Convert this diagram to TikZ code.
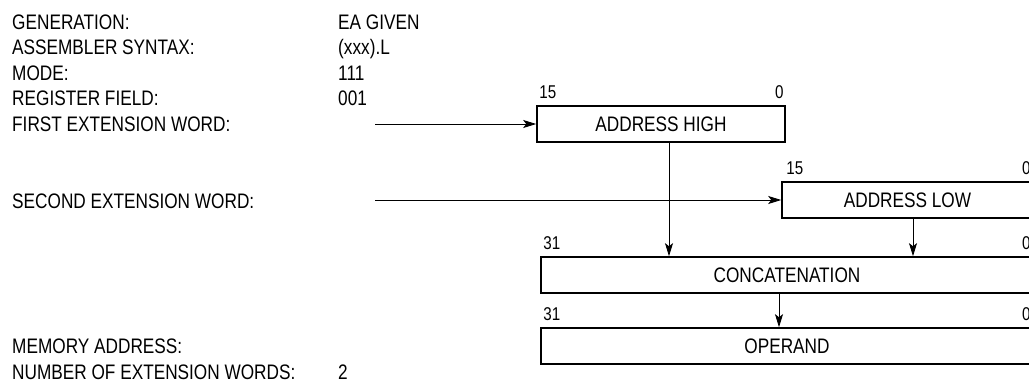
\documentclass[tikz,border=0pt]{standalone}
\usepackage{fontspec}
\setmainfont{Liberation Sans}[FakeStretch=0.82]
\usetikzlibrary{arrows.meta}
\begin{document}
\begin{tikzpicture}[x=1pt,y=-1pt,
  font=\fontsize{21}{25}\selectfont,
  lbl/.style={anchor=base west,inner sep=0pt},
  reg/.style={draw,line width=1.6pt,minimum height=36pt,inner sep=0pt},
  bitl/.style={anchor=south west,inner sep=0pt,font=\fontsize{18.5}{20}\selectfont},
  bitr/.style={anchor=south east,inner sep=0pt,font=\fontsize{18.5}{20}\selectfont},
  feed/.style={line width=0.9pt,-{Stealth[length=13pt,width=8pt,inset=3pt]}}]
\useasboundingbox (0,0) rectangle (1029,383);
% addressing mode summary
\node[lbl] (gen)   at (12,29)    {GENERATION:};
\node[lbl] (genv)  at (338,29)   {EA GIVEN};
\node[lbl] (syn)   at (12,54.6)  {ASSEMBLER SYNTAX:};
\node[lbl] (synv)  at (338,54.6) {(xxx).L};
\node[lbl] (mode)  at (12,80.2)  {MODE:};
\node[lbl] (modev) at (338,80.2) {111};
\node[lbl] (reg)   at (12,105.9) {REGISTER FIELD:};
\node[lbl] (regv)  at (338,105.9) {001};
\node[lbl] (ext1)  at (12,131.5) {FIRST EXTENSION WORD:};
\node[lbl] (ext2)  at (12,208.5) {SECOND EXTENSION WORD:};
\node[lbl] (mem)   at (12,353.5) {MEMORY ADDRESS:};
\node[lbl] (num)   at (12,379)   {NUMBER OF EXTENSION WORDS:};
\node[lbl] (numv)  at (338,379)  {2};
% registers
\node[reg,minimum width=248pt] (hi)  at (661,124)   {ADDRESS HIGH};
\node[reg,minimum width=251pt] (lo)  at (907.5,200) {ADDRESS LOW};
\node[reg,minimum width=492pt] (cat) at (787,275)   {CONCATENATION};
\node[reg,minimum width=492pt] (op)  at (787,346)   {OPERAND};
% bit numbers
\node[bitl] (hi15) at ([xshift=3pt,yshift=6pt]hi.north west) {15};
\node[bitr] (hi0)  at ([xshift=-2pt,yshift=6pt]hi.north east) {0};
\node[bitl] (lo15) at ([xshift=5pt,yshift=6pt]lo.north west) {15};
\node[bitr] (lo0)  at ([xshift=-3pt,yshift=6pt]lo.north east) {0};
\node[bitl] (cat31) at ([xshift=3pt,yshift=6pt]cat.north west) {31};
\node[bitr] (cat0)  at ([xshift=-3pt,yshift=6pt]cat.north east) {0};
\node[bitl] (op31) at ([xshift=3pt,yshift=6pt]op.north west) {31};
\node[bitr] (op0)  at ([xshift=-3pt,yshift=6pt]op.north east) {0};
% data flow
\coordinate (in1) at (375,124);
\coordinate (in2) at (375,200);
\draw[feed] (in1) -- (hi.west);
\draw[feed] (in2) -- (lo.west);
\draw[feed] ([xshift=8pt]hi.south) -- ([xshift=8pt]hi.south |- cat.north);
\draw[feed] ([xshift=5.5pt]lo.south) -- ([xshift=5.5pt]lo.south |- cat.north);
\draw[feed] ([xshift=-8pt]cat.south) -- ([xshift=-8pt]cat.south |- op.north);
\end{tikzpicture}
\end{document}
